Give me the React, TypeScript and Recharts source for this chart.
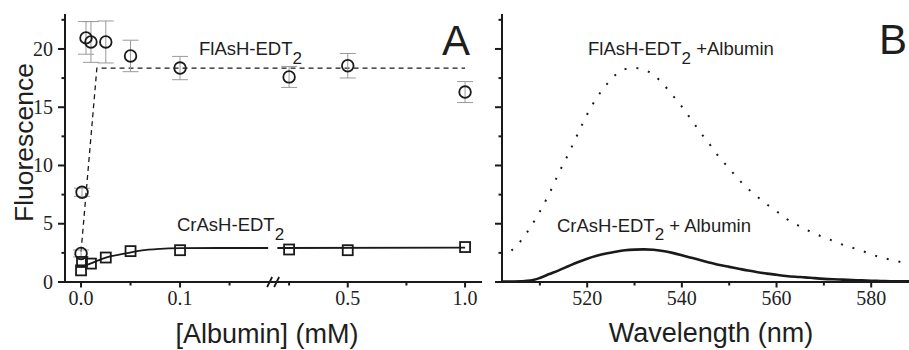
import { ComposedChart, Line, Scatter, ErrorBar, XAxis, YAxis, ReferenceDot } from 'recharts';

// Panel A: fluorescence vs albumin (mM)
const flashConc = [0, 0.001, 0.005, 0.01, 0.025, 0.05, 0.1, 0.25, 0.5, 1.0];
const flashFluor = [2.45, 7.7, 20.95, 20.6, 20.6, 19.4, 18.36, 17.6, 18.56, 16.3];
const flashErr = [0.3, 0.35, 1.4, 1.75, 1.8, 1.35, 1.0, 0.9, 1.05, 0.9];

const crashConc = [0, 0.001, 0.01, 0.025, 0.05, 0.1, 0.25, 0.5, 1.0];
const crashFluor = [1.0, 1.72, 1.58, 2.1, 2.65, 2.73, 2.79, 2.73, 3.0];

const flashFitConc = [0, 0.016, 1.0];
const flashFitFluor = [2.6, 18.36, 18.36];

const crashFitConcLow = [0, 0.01, 0.025, 0.045, 0.06, 0.08, 0.1, 0.14, 0.189];
const crashFitFluorLow = [1.3, 1.6, 2.1, 2.45, 2.7, 2.85, 2.9, 2.92, 2.92];
const crashFitConcHigh = [0.2, 1.0];
const crashFitFluorHigh = [2.92, 2.95];

const albuminTicks = [0, 0.05, 0.1, 0.15, 0.25, 0.5, 0.75, 1.0];
const albuminTickLabels = ['0.0', '', '0.1', '', '', '0.5', '', '1.0'];

const fluorTicks = [0, 2.5, 5, 7.5, 10, 12.5, 15, 17.5, 20, 22.5];
const fluorTickLabels = ['0', '', '5', '', '10', '', '15', '', '20', ''];

// Panel B: emission spectra
const wavelengths = [
  502, 504, 506, 508, 510, 512, 514, 516, 518, 520, 522, 524, 526, 528, 530,
  532, 534, 536, 538, 540, 542, 544, 546, 548, 550, 552, 554, 556, 558, 560,
  562, 564, 566, 568, 570, 572, 574, 576, 578, 580, 582, 584, 586, 588, 590,
];
const flashSpectrum = [
  null, 2.7, 3.55, 4.7, 6.05, 7.6, 9.35, 10.97, 12.7, 14.4, 15.8, 16.9, 17.78, 18.27, 18.37,
  18.2, 17.8, 17.0, 16.05, 15.05, 13.93, 12.8, 11.75, 10.65, 9.75, 8.8, 8.0, 7.3, 6.65, 6.07,
  5.45, 4.98, 4.55, 4.17, 3.83, 3.52, 3.19, 2.94, 2.68, 2.38, 2.12, 1.92, 1.73, 1.56, 1.45,
];
const crashSpectrum = [
  0.03, 0.04, 0.06, 0.12, 0.35, 0.68, 1.0, 1.35, 1.7, 2.0, 2.25, 2.45, 2.6, 2.72, 2.78,
  2.8, 2.77, 2.66, 2.5, 2.3, 2.08, 1.86, 1.66, 1.46, 1.3, 1.14, 0.98, 0.84, 0.72, 0.62,
  0.52, 0.45, 0.4, 0.33, 0.27, 0.23, 0.2, 0.17, 0.14, 0.11, 0.09, 0.07, 0.06, 0.05, 0.04,
];
const wavelengthTicks = [510, 520, 530, 540, 550, 560, 570, 580];
const wavelengthTickLabels = ['', '520', '', '540', '', '560', '', '580'];

const INK = '#1a1a1a';
const SANS = '"Liberation Sans", Arial, sans-serif';
const SERIF = '"Liberation Serif", "Times New Roman", serif';

// broken x axis: 0-0.2 mM stretched, 0.2-1.0 mM compressed
const BREAK_AT = 0.2;
const toAxis = (c: number) => (c < BREAK_AT ? c * 10 : 1.983 + (c - BREAK_AT) * 2.37);

const flashPoints = flashConc.map((c, i) => ({ u: toAxis(c), y: flashFluor[i], err: flashErr[i] }));
const crashPoints = crashConc.map((c, i) => ({ u: toAxis(c), y: crashFluor[i] }));
const flashFit = flashFitConc.map((c, i) => ({ u: toAxis(c), y: flashFitFluor[i] }));
const crashFitLow = crashFitConcLow.map((c, i) => ({ u: toAxis(c), y: crashFitFluorLow[i] }));
const crashFitHigh = crashFitConcHigh.map((c, i) => ({ u: toAxis(c), y: crashFitFluorHigh[i] }));

const flashSpecData = wavelengths.map((w, i) => ({ w, y: flashSpectrum[i] }));
const crashSpecData = wavelengths.map((w, i) => ({ w, y: crashSpectrum[i] }));

const frameLine = { stroke: INK, strokeWidth: 2 };

function XTick({ x, y, index, labels }: any) {
  const label = labels[index] || '';
  const major = label !== '';
  return (
    <g>
      <line x1={x} x2={x} y1={y} y2={y + (major ? 5.5 : 3.5)} stroke={INK} strokeWidth={2} />
      {major && (
        <text x={x} y={y + 23} textAnchor="middle" fontFamily={SERIF} fontSize={20} fill="#222">
          {label}
        </text>
      )}
    </g>
  );
}

function YTick({ x, y, index, labels, showText }: any) {
  const major = fluorTicks[index] % 5 === 0;
  const label = labels[index] || '';
  return (
    <g>
      <line x1={x} x2={x - (major ? 7 : 3.5)} y1={y} y2={y} stroke={INK} strokeWidth={2} />
      {showText && label !== '' && (
        <text x={x - 12} y={y + 6.7} textAnchor="end" fontFamily={SERIF} fontSize={20} fill="#222">
          {label}
        </text>
      )}
    </g>
  );
}

const BreakMark = ({ cx, cy }: any) => (
  <g stroke={INK} strokeWidth={1.8}>
    <line x1={cx - 6} y1={cy + 5} x2={cx - 1} y2={cy - 5} />
    <line x1={cx + 1} y1={cy + 5} x2={cx + 6} y2={cy - 5} />
  </g>
);

function PanelA() {
  return (
    <ComposedChart width={490} height={350} margin={{ top: 14, right: 8, bottom: 38, left: 0 }}>
      <XAxis
        dataKey="u"
        type="number"
        domain={[-0.162, 4.05]}
        ticks={albuminTicks.map(toAxis)}
        interval={0}
        tickSize={0}
        tickMargin={0}
        tickLine={false}
        axisLine={frameLine}
        tick={(p: any) => <XTick {...p} labels={albuminTickLabels} />}
        height={30}
        allowDataOverflow
      />
      <XAxis xAxisId="top" orientation="top" type="number" domain={[-0.162, 4.05]} tick={false} tickLine={false} axisLine={frameLine} height={0} />
      <YAxis
        dataKey="y"
        type="number"
        domain={[0, 23]}
        ticks={fluorTicks}
        interval={0}
        tickSize={0}
        tickMargin={0}
        tickLine={false}
        axisLine={frameLine}
        tick={(p: any) => <YTick {...p} labels={fluorTickLabels} showText />}
        width={65}
        allowDataOverflow
      />
      <YAxis yAxisId="right" orientation="right" type="number" domain={[0, 23]} tick={false} tickLine={false} axisLine={frameLine} width={0} />
      <Line data={flashFit} dataKey="y" type="linear" stroke={INK} strokeWidth={1.3} strokeDasharray="5 4" dot={false} isAnimationActive={false} />
      <Line data={crashFitLow} dataKey="y" type="monotone" stroke={INK} strokeWidth={1.8} dot={false} isAnimationActive={false} />
      <Line data={crashFitHigh} dataKey="y" type="linear" stroke={INK} strokeWidth={1.8} dot={false} isAnimationActive={false} />
      <Scatter
        data={flashPoints}
        dataKey="y"
        isAnimationActive={false}
        shape={(p: any) => <circle cx={p.cx} cy={p.cy} r={5.8} fill="none" stroke={INK} strokeWidth={1.8} />}
      >
        <ErrorBar dataKey="err" direction="y" width={8} stroke="#9a9a9a" strokeWidth={1} isAnimationActive={false} />
      </Scatter>
      <Scatter
        data={crashPoints}
        dataKey="y"
        isAnimationActive={false}
        shape={(p: any) => <rect x={p.cx - 5} y={p.cy - 5} width={10} height={10} fill="none" stroke={INK} strokeWidth={1.8} />}
      />
      <ReferenceDot x={1.94} y={0} r={0} ifOverflow="visible" shape={(p: any) => <BreakMark {...p} />} />
    </ComposedChart>
  );
}

function PanelB() {
  return (
    <ComposedChart width={500} height={350} margin={{ top: 14, right: 12, bottom: 38, left: 0 }}>
      <XAxis
        dataKey="w"
        type="number"
        domain={[502, 592]}
        ticks={wavelengthTicks}
        interval={0}
        tickSize={0}
        tickMargin={0}
        tickLine={false}
        axisLine={frameLine}
        tick={(p: any) => <XTick {...p} labels={wavelengthTickLabels} />}
        height={30}
        allowDataOverflow
      />
      <XAxis xAxisId="top" orientation="top" type="number" domain={[502, 592]} tick={false} tickLine={false} axisLine={frameLine} height={0} />
      <YAxis
        dataKey="y"
        type="number"
        domain={[0, 23]}
        ticks={fluorTicks}
        interval={0}
        tickSize={0}
        tickMargin={0}
        tickLine={false}
        axisLine={frameLine}
        tick={(p: any) => <YTick {...p} labels={fluorTickLabels} showText={false} />}
        width={62}
        allowDataOverflow
      />
      <Line data={flashSpecData} dataKey="y" type="monotone" stroke={INK} strokeWidth={2} strokeDasharray="2 10" dot={false} isAnimationActive={false} />
      <Line data={crashSpecData} dataKey="y" type="monotone" stroke={INK} strokeWidth={2.6} dot={false} isAnimationActive={false} />
    </ComposedChart>
  );
}

export default function App() {
  const sub = { fontSize: 17 } as const;
  return (
    <div style={{ position: 'absolute', left: 0, top: 0, width: 909, height: 350, overflow: 'hidden', background: '#fff' }}>
      <div style={{ position: 'absolute', left: 0, top: 0 }}>
        <PanelA />
      </div>
      <div style={{ position: 'absolute', left: 440, top: 0 }}>
        <PanelB />
      </div>
      <svg width={909} height={350} style={{ position: 'absolute', left: 0, top: 0, pointerEvents: 'none' }}>
        <g fontFamily={SANS} fill="#1e1e1e">
          <text x={33} y={142.5} fontSize={26.5} textAnchor="middle" transform="rotate(-90 33 142.5)">Fluorescence</text>
          <text x={267} y={343} fontSize={27} textAnchor="middle">[Albumin] (mM)</text>
          <text x={711} y={342} fontSize={27} textAnchor="middle">Wavelength (nm)</text>
          <text x={199} y={55} fontSize={18.5}>
            FlAsH-EDT<tspan dy={8.5} {...sub}>2</tspan>
          </text>
          <text x={177} y={231} fontSize={18.5}>
            CrAsH-EDT<tspan dy={8.5} {...sub}>2</tspan>
          </text>
          <text x={588} y={55} fontSize={18.5}>
            FlAsH-EDT<tspan dy={8.5} {...sub}>2</tspan>
            <tspan dy={-8.5}> +Albumin</tspan>
          </text>
          <text x={557} y={231.5} fontSize={18.5}>
            CrAsH-EDT<tspan dy={8.5} {...sub}>2</tspan>
            <tspan dy={-8.5}> + Albumin</tspan>
          </text>
          <text x={442} y={55} fontSize={42}>A</text>
          <text x={879} y={54} fontSize={42}>B</text>
        </g>
      </svg>
    </div>
  );
}
